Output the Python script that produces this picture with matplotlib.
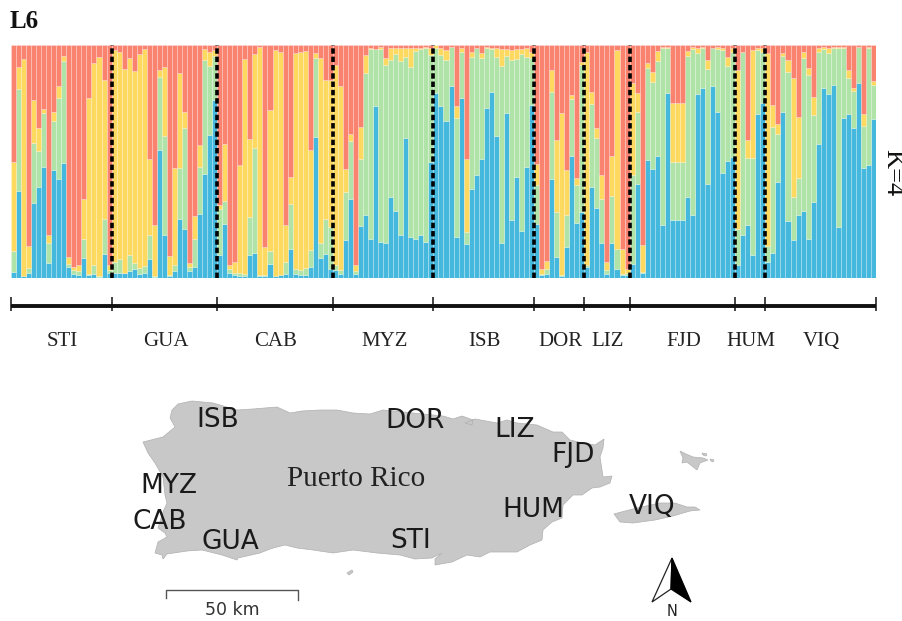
import matplotlib
matplotlib.use('Agg')
import matplotlib.pyplot as plt
import numpy as np
from matplotlib.patches import Polygon

W, H = 903, 621

populations = ['STI', 'GUA', 'CAB', 'MYZ', 'ISB', 'DOR', 'LIZ', 'FJD', 'HUM', 'VIQ']
pop_sizes = [20, 21, 23, 20, 20, 10, 9, 21, 6, 22]

# cumulative ancestry per individual, full bar = 698
blue_top = [18, 262, 6, 14, 225, 272, 334, 45, 323, 298, 345, 33, 12, 8, 60, 10, 13, 4, 73, 16,
            16, 16, 14, 20, 28, 13, 16, 58, 4, 383, 130, 6, 22, 178, 148, 20, 33, 191, 311, 428, 533,
            68, 163, 16, 8, 6, 6, 68, 76, 6, 6, 43, 6, 8, 13, 88, 13, 10, 8, 33, 423, 60, 73, 28,
            23, 11, 113, 236, 12, 155, 188, 116, 515, 108, 106, 243, 200, 128, 420, 123, 116, 130, 108, 348,
            553, 515, 470, 575, 123, 538, 101, 266, 308, 355, 510, 556, 425, 106, 493, 175, 303, 141, 333, 518,
            163, 10, 13, 298, 63, 6, 93, 365, 166, 198,
            33, 273, 210, 106, 12, 106, 28, 10, 10,
            43, 283, 16, 353, 326, 366, 160, 555, 175, 175, 175, 243, 190, 550, 568, 283, 575, 496, 315, 350, 363,
            38, 128, 158, 68, 490, 523,
            48, 76, 288, 496, 170, 113, 188, 201, 118, 228, 400, 568, 550, 578, 153, 478, 490, 450, 583, 330, 340, 475]
green_top = [80, 565, 6, 30, 405, 381, 493, 106, 470, 538, 650, 43, 23, 20, 118, 13, 40, 6, 178, 23,
             48, 56, 16, 68, 45, 30, 36, 128, 6, 603, 425, 8, 40, 330, 450, 34, 118, 333, 653, 636, 666,
             208, 230, 28, 15, 16, 13, 183, 390, 8, 8, 80, 6, 10, 48, 221, 28, 23, 30, 83, 658, 106, 178, 153,
             38, 23, 258, 411, 20, 355, 613, 686, 686, 686, 638, 653, 671, 650, 663, 633, 680, 686, 688, 668,
             688, 668, 653, 692, 478, 678, 138, 663, 688, 658, 688, 686, 663, 635, 666, 653, 656, 670, 663, 660,
             278, 12, 28, 556, 198, 10, 190, 536, 278, 638,
             38, 520, 418, 238, 25, 245, 88, 13, 15,
             308, 496, 18, 628, 588, 650, 688, 690, 348, 348, 348, 666, 686, 673, 688, 625, 688, 686, 683, 636, 678,
             148, 676, 358, 358, 683, 678,
             96, 453, 430, 666, 616, 243, 300, 658, 608, 488, 676, 686, 673, 688, 690, 688, 600, 560, 692, 456, 688, 578]
yellow_top = [348, 633, 656, 96, 532, 450, 506, 128, 496, 575, 666, 63, 33, 38, 238, 538, 645, 662, 593, 38,
              683, 678, 626, 658, 620, 670, 685, 356, 158, 623, 633, 65, 330, 613, 496, 46, 186, 398, 686, 678, 683,
              218, 400, 38, 48, 338, 656, 416, 670, 693, 93, 503, 683, 678, 160, 303, 673, 678, 680, 383, 673, 660, 593, 593,
              638, 575, 326, 431, 40, 451, 668, 690, 686, 692, 658, 688, 690, 688, 690, 690, 690, 690, 692, 690,
              698, 688, 683, 692, 516, 688, 356, 676, 688, 673, 692, 690, 688, 686, 686, 683, 686, 686, 688, 678,
              343, 28, 50, 623, 413, 493, 323, 548, 300, 648,
              678, 558, 448, 308, 48, 366, 683, 88, 28,
              583, 553, 98, 643, 618, 681, 692, 693, 523, 523, 523, 680, 693, 688, 692, 653, 690, 692, 688, 663, 688,
              623, 678, 413, 683, 688, 688,
              673, 518, 460, 673, 653, 600, 483, 676, 628, 543, 690, 692, 690, 692, 692, 692, 623, 568, 692, 491, 692, 590]

# map shapes, in picture pixels
main_island = [(172, 410), (178, 404), (192, 401), (213, 403), (237, 410), (253, 409), (277, 407),
               (290, 413), (302, 411), (320, 410), (337, 410), (353, 413), (370, 414), (383, 410), (403, 412),
               (443, 416), (453, 419), (462, 416), (473, 420), (472, 425), (465, 423), (475, 419), (497, 423),
               (507, 420), (517, 423), (537, 425), (553, 432), (562, 432), (570, 440), (583, 443), (595, 445),
               (604, 439), (603, 448), (600, 457), (602, 470), (603, 477), (612, 476), (610, 483), (600, 487),
               (592, 488), (582, 495), (573, 495), (563, 505), (562, 518), (552, 522), (543, 530), (542, 540),
               (530, 545), (517, 552), (500, 552), (490, 552), (480, 557), (467, 555), (452, 562), (435, 565),
               (435, 559), (442, 553), (432, 558), (415, 559), (400, 555), (377, 553), (353, 550), (333, 553),
               (313, 550), (297, 548), (285, 545), (277, 547), (270, 549), (260, 553), (238, 558), (237, 560),
               (222, 555), (202, 550), (187, 551), (167, 554), (163, 559), (162, 555), (155, 553), (158, 542),
               (167, 537), (165, 533), (158, 528), (163, 512), (167, 503), (165, 495), (163, 477), (155, 463),
               (148, 453), (143, 442), (163, 437), (175, 427), (170, 418)]
vieques = [(614, 514), (625, 511), (637, 508), (660, 503), (675, 503), (687, 507), (695, 507), (700, 510),
           (690, 511), (673, 516), (655, 520), (633, 523), (620, 522)]
culebra = [(680, 451), (686, 454), (693, 457), (703, 458), (708, 460), (700, 463), (697, 470), (692, 466),
           (687, 462), (682, 463), (683, 458)]
culebra_east = [(702, 453), (707, 454), (706, 456), (703, 455)]
culebra_tip = [(710, 459), (714, 460), (713, 462), (711, 461)]
islet = [(347, 573), (352, 570), (353, 572), (349, 575)]

map_labels = ['ISB', 'DOR', 'LIZ', 'FJD', 'MYZ', 'CAB', 'GUA', 'STI', 'HUM', 'VIQ']
map_label_x = [218, 415, 515, 573, 169, 160, 230, 411, 533, 652]
map_label_y = [420, 421, 430, 455, 486, 522, 542, 541, 510, 507]

red = '#F9836F'
yellow = '#FDD95F'
green = '#AFE3A7'
blue = '#45B8DD'


def px_rect(left, top, right, bottom):
    return [left / W, 1 - bottom / H, (right - left) / W, (bottom - top) / H]


fig = plt.figure(figsize=(W / 100, H / 100), dpi=100)

# bars
ax = fig.add_axes(px_rect(11, 45, 876, 278))
x = np.arange(len(blue_top))
b = np.array(blue_top) / 698
g = np.array(green_top) / 698
y = np.array(yellow_top) / 698
edge = dict(width=1, align='edge', edgecolor='#FFFFFF50', linewidth=0.5)
ax.bar(x, b, color=blue, **edge)
ax.bar(x, g - b, bottom=b, color=green, **edge)
ax.bar(x, y - g, bottom=g, color=yellow, **edge)
ax.bar(x, 1 - y, bottom=y, color=red, **edge)
ax.set_xlim(0, len(x))
ax.set_ylim(0, 1)
ax.axis('off')

bounds = np.cumsum(pop_sizes)
ax.vlines(bounds[:-1], 0, 1, colors='black', linewidth=2.6, linestyles=(0, (1.5, 0.8)), clip_on=False)

# population axis under the bars
ax2 = fig.add_axes(px_rect(11, 297, 876, 311))
ax2.set_xlim(0, len(x))
ax2.set_ylim(0, 1)
ax2.axis('off')
ax2.axhline(0.33, color='#111111', linewidth=2.8)
ax2.vlines(np.concatenate(([0], bounds)), 0, 1, colors='#111111', linewidth=1.1, clip_on=False)
mids = np.concatenate(([0], bounds[:-1])) + np.array(pop_sizes) / 2
for m, name in zip(mids, populations):
    ax2.text(m + 0.2, -2.15, name, ha='center', va='center', family='Liberation Serif', fontsize=15, color='#222222')

# map and free text, picture pixels
ax3 = fig.add_axes([0, 0, 1, 1])
ax3.set_xlim(0, W)
ax3.set_ylim(H, 0)
ax3.axis('off')
for shape in [main_island, vieques, culebra, culebra_east, culebra_tip, islet]:
    ax3.add_patch(Polygon(shape, closed=True, facecolor='#C8C8C8', edgecolor='#B0B0B0', linewidth=0.5))

for name, lx, ly in zip(map_labels, map_label_x, map_label_y):
    ax3.text(lx, ly, name, ha='center', va='center', fontsize=19, color='#1A1A1A')
ax3.text(356, 479, 'Puerto Rico', ha='center', va='center', family='Liberation Serif', fontsize=21, color='#222222')

ax3.text(10, 22, 'L6', ha='left', va='center', family='Liberation Serif', fontweight='bold', fontsize=18, color='#111111')
ax3.text(892, 173, 'K=4', ha='center', va='center', rotation=270, family='Liberation Serif', fontsize=19, color='#111111')

# scale bar
ax3.plot([166, 166, 298, 298], [598, 590, 590, 600], color='#555555', linewidth=1)
ax3.text(232, 610, '50 km', ha='center', va='center', fontsize=12.5, color='#333333')

# north arrow
ax3.add_patch(Polygon([(672, 558), (652, 602), (671, 589)], closed=True, facecolor='white', edgecolor='#222222', linewidth=0.9))
ax3.add_patch(Polygon([(672, 558), (691, 602), (671, 589)], closed=True, facecolor='black', edgecolor='black', linewidth=0.9))
ax3.text(672, 611, 'N', ha='center', va='center', fontsize=10.5, color='#222222')

fig.savefig('out.png', dpi=100)
